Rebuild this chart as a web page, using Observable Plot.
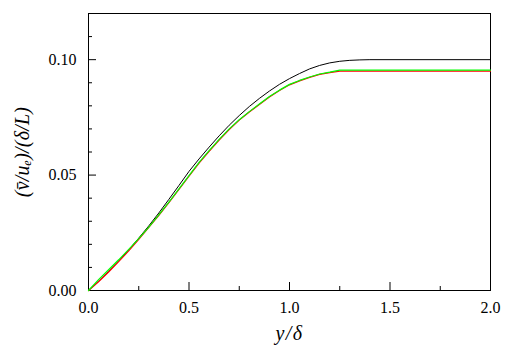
<!DOCTYPE html>
<html><head><meta charset="utf-8">
<script src="https://cdn.jsdelivr.net/npm/d3@7"></script>
<script src="https://cdn.jsdelivr.net/npm/@observablehq/plot@0.6"></script>
<style>body{margin:0;background:#fff}</style>
</head><body><div id="chart"></div>
<script>
const xBlack = [0,0.05,0.1,0.15,0.2,0.25,0.3,0.35,0.4,0.45,0.5,0.55,0.6,0.65,0.7,0.75,0.8,0.85,0.9,0.95,1.0,1.05,1.1,1.15,1.2,1.25,1.3,1.35,1.4,2.0];
const yBlack = [0,0.0040,0.0083,0.0128,0.0176,0.0227,0.0280,0.0336,0.0395,0.0455,0.0516,0.0570,0.0621,0.0670,0.0716,0.0758,0.0797,0.0832,0.0864,0.0893,0.0918,0.0940,0.0960,0.0975,0.0986,0.0993,0.0997,0.0999,0.1000,0.1000];
const xGreen = [0,0.05,0.1,0.15,0.2,0.25,0.3,0.35,0.4,0.45,0.5,0.55,0.6,0.65,0.7,0.75,0.8,0.85,0.9,0.95,1.0,1.05,1.1,1.15,1.2,1.25,2.0];
const yGreen = [0,0.0047,0.0090,0.0133,0.0178,0.0225,0.0275,0.0328,0.0383,0.0440,0.0498,0.0555,0.0606,0.0655,0.0700,0.0740,0.0775,0.0808,0.0840,0.0868,0.0893,0.0910,0.0925,0.0938,0.0946,0.0955,0.0955];
const xRed = [0,0.05,0.1,0.15,0.2,0.25,0.3,0.35,0.4,0.45,0.5,0.55,0.6,0.65,0.7,0.75,0.8,0.85,0.9,0.95,1.0,1.05,1.1,1.15,1.2,1.25,2.0];
const yRed = [0,0.0038,0.0080,0.0125,0.0172,0.0222,0.0273,0.0326,0.0381,0.0438,0.0495,0.0552,0.0603,0.0652,0.0697,0.0738,0.0773,0.0806,0.0838,0.0866,0.0891,0.0908,0.0923,0.0936,0.0944,0.0950,0.0950];
const xMajorTicks = [0,0.5,1.0,1.5,2.0];
const xMinorTicks = [0.25,0.75,1.25,1.75];
const yMajorTicks = [0,0.05,0.10];
const yMinorTicks = [0.01,0.02,0.03,0.04,0.06,0.07,0.08,0.09,0.11];
const xLabel = "y/δ";
const yLabel = "(v̄/uₑ)/(δ/L)";

const toRows = (xs, ys) => xs.map((x, i) => ({x, y: ys[i]}));
const font = "Liberation Serif";

const chart = Plot.plot({
  width: 507,
  height: 353,
  marginLeft: 88,
  marginRight: 17,
  marginTop: 13,
  marginBottom: 63,
  style: {fontFamily: font, fontSize: "16px", color: "#000", background: "#fff"},
  x: {domain: [0, 2.0]},
  y: {domain: [0, 0.12]},
  marks: [
    Plot.frame({stroke: "#000", strokeWidth: 1}),
    Plot.axisX(xMajorTicks, {tickSize: -8, text: null, label: null}),
    Plot.axisX(xMinorTicks, {tickSize: -4, text: null, label: null}),
    Plot.axisX(xMajorTicks, {tickSize: 0, tickPadding: 11, tickFormat: d3.format(".1f"), fontSize: 16, fontFamily: font, label: null}),
    Plot.axisY(yMajorTicks, {tickSize: -8, text: null, label: null}),
    Plot.axisY(yMinorTicks, {tickSize: -4, text: null, label: null}),
    Plot.axisY(yMajorTicks, {tickSize: 0, tickPadding: 12, tickFormat: d3.format(".2f"), fontSize: 16, fontFamily: font, label: null}),
    Plot.text([xLabel], {frameAnchor: "bottom", dy: 43, fontSize: 20, fontFamily: font, fontStyle: "italic", textAnchor: "middle", lineAnchor: "middle"}),
    Plot.text([yLabel], {frameAnchor: "left", dx: -66, rotate: -90, fontSize: 20, fontFamily: font, fontStyle: "italic", textAnchor: "middle", lineAnchor: "middle"}),
    Plot.line(toRows(xBlack, yBlack), {x: "x", y: "y", stroke: "#000000", strokeWidth: 1}),
    Plot.line(toRows(xRed, yRed), {x: "x", y: "y", stroke: "#ff0000", strokeWidth: 1.2}),
    Plot.line(toRows(xGreen, yGreen), {x: "x", y: "y", stroke: "#00ff00", strokeWidth: 1.2})
  ]
});
d3.select(chart).selectAll("text").filter(function() { return this.textContent === yLabel; }).style("letter-spacing", "0.2px");
d3.select(chart).selectAll("text").filter(function() { return this.textContent === xLabel; }).style("letter-spacing", "1.5px");
document.getElementById("chart").appendChild(chart);
</script>
</body></html>
